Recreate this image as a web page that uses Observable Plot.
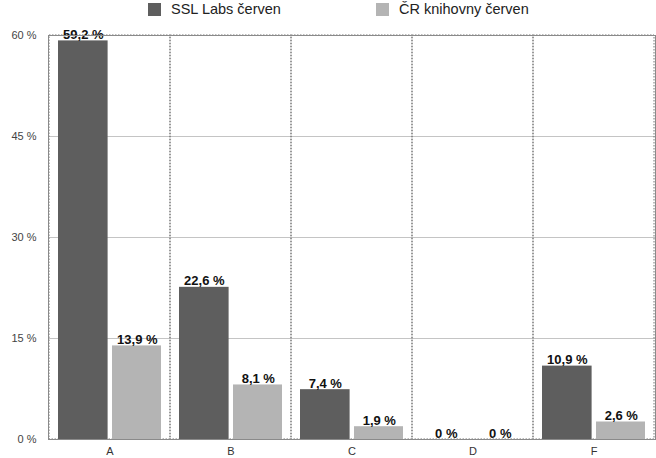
<!DOCTYPE html>
<html>
<head>
<meta charset="utf-8">
<script src="https://cdn.jsdelivr.net/npm/d3@7"></script>
<script src="https://cdn.jsdelivr.net/npm/@observablehq/plot@0.6"></script>
<style>
  html, body { margin: 0; padding: 0; background: #fff; }
  body { width: 656px; height: 458px; overflow: hidden; font-family: "Liberation Sans", Arial, sans-serif; }
  #legend { position: relative; height: 22px; }
  .item { position: absolute; top: 1px; display: flex; align-items: center; font-size: 14.5px; color: #222; }
  .sw { width: 13px; height: 13px; margin-right: 10px; }
</style>
</head>
<body>
<div id="legend"></div>
<div id="chart"></div>
<script>
const categories = ["A", "B", "C", "D", "F"];
const series = ["SSL Labs červen", "ČR knihovny červen"];
const sslValues = [59.2, 22.6, 7.4, 0, 10.9];
const crValues = [13.9, 8.1, 1.9, 0, 2.6];
const yTicks = [0, 15, 30, 45, 60];
const colors = ["#5e5e5e", "#b4b4b4"];

const ssl = categories.map((c, i) => ({cat: c, series: series[0], value: sslValues[i]}));
const cr = categories.map((c, i) => ({cat: c, series: series[1], value: crValues[i]}));
const fmt = v => String(v).replace(".", ",") + " %";

// legend
const legend = document.getElementById("legend");
const legendLeft = [148, 376];
series.forEach((s, i) => {
  const el = document.createElement("div");
  el.className = "item";
  el.style.left = legendLeft[i] + "px";
  el.innerHTML = `<span class="sw" style="background:${colors[i]}"></span><span>${s}</span>`;
  legend.appendChild(el);
});

const band = (656 - 48 - 1) / categories.length;
const barW = 50, outer = 9, gap = 4;

const chart = Plot.plot({
  width: 656,
  height: 436,
  marginLeft: 48,
  marginRight: 1,
  marginTop: 13,
  marginBottom: 19,
  style: {fontFamily: "Liberation Sans, Arial, sans-serif", background: "#fff"},
  x: {domain: categories, padding: 0, label: null},
  y: {domain: [0, 60], label: null},
  marks: [
    Plot.ruleY([15, 30, 45], {stroke: "#c4c4c4", strokeWidth: 1}),
    Plot.barY(categories, {x: d => d, y1: 0, y2: 60, fill: "none", stroke: "#777", strokeWidth: 1, strokeDasharray: "1.5,1.5"}),
    Plot.barY(ssl, {x: "cat", y: "value", fill: colors[0], insetLeft: outer, insetRight: band - outer - barW}),
    Plot.barY(cr, {x: "cat", y: "value", fill: colors[1], insetLeft: outer + barW + gap, insetRight: outer}),
    Plot.text(ssl, {x: "cat", y: "value", text: d => fmt(d.value), dx: outer + barW / 2 - band / 2, dy: -2, lineAnchor: "bottom", fontWeight: "bold", fontSize: 13, fill: "#111"}),
    Plot.text(cr, {x: "cat", y: "value", text: d => fmt(d.value), dx: outer + barW + gap + barW / 2 - band / 2, dy: -2, lineAnchor: "bottom", fontWeight: "bold", fontSize: 13, fill: "#111"}),
    Plot.frame({stroke: "#8a8a8a", strokeWidth: 1}),
    Plot.axisY({ticks: yTicks, tickSize: 0, tickPadding: 12, tickFormat: d => d + " %", fontSize: 11, fill: "#444"}),
    Plot.axisX({tickSize: 0, tickPadding: 8, fontSize: 11, fill: "#333"})
  ]
});
document.getElementById("chart").appendChild(chart);
</script>
</body>
</html>
